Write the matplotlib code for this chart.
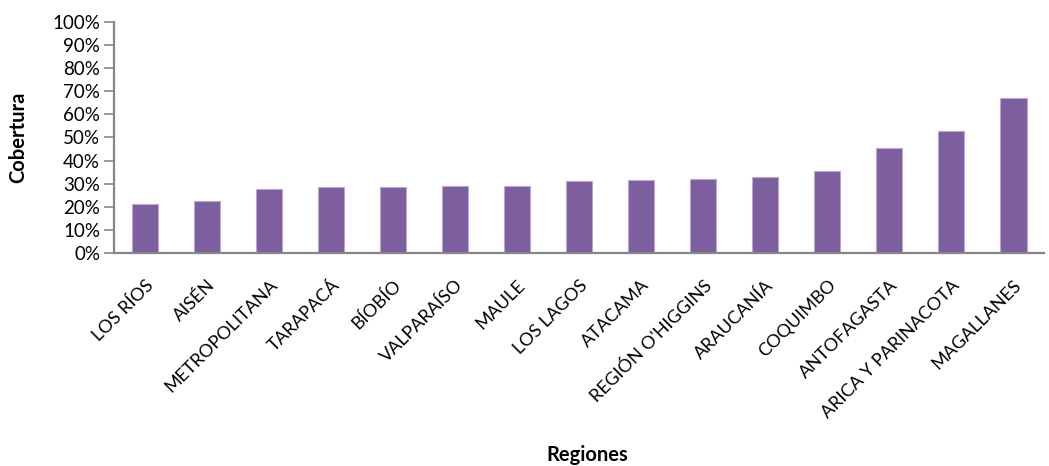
import matplotlib
matplotlib.use("Agg")
import matplotlib.pyplot as plt
import matplotlib.transforms as mtransforms
from matplotlib.ticker import PercentFormatter

regiones = ["LOS RÍOS", "AISÉN", "METROPOLITANA", "TARAPACÁ", "BÍOBÍO", "VALPARAÍSO",
            "MAULE", "LOS LAGOS", "ATACAMA", "REGIÓN O'HIGGINS", "ARAUCANÍA",
            "COQUIMBO", "ANTOFAGASTA", "ARICA Y PARINACOTA", "MAGALLANES"]
cobertura = [21.0, 22.3, 27.9, 28.5, 28.5, 29.2, 29.2, 31.1, 31.5, 32.2, 32.8,
             35.4, 45.4, 52.8, 67.2]
yticks = list(range(0, 101, 10))

plt.rcParams['font.family'] = ['Lato', 'DejaVu Sans']

fig = plt.figure(figsize=(10.49, 4.66), dpi=100)
ax = fig.add_axes([0.1087, 0.457, 0.887, 0.496])

x = list(range(len(regiones)))
ax.bar(x, cobertura, width=0.42, color='#7D5FA0', edgecolor='#B9A6D2', linewidth=0.8)

ax.set_xlim(-0.5, len(regiones) - 0.5)
ax.set_ylim(0, 100)
ax.set_yticks(yticks)
ax.yaxis.set_major_formatter(PercentFormatter(decimals=0))
ax.tick_params(axis='y', labelsize=13.5, color='#868686', length=7, width=1.2, pad=3)
ax.tick_params(axis='x', length=0, labelsize=13, pad=0)
ax.set_xticks(x)
ax.set_xticklabels(regiones, rotation=45, ha='right', va='top', rotation_mode='anchor')
offset = mtransforms.ScaledTranslation(0 / 100, -24 / 100, fig.dpi_scale_trans)
for lab in ax.get_xticklabels():
    lab.set_transform(lab.get_transform() + offset)

for s in ['top', 'right']:
    ax.spines[s].set_visible(False)
for s in ['left', 'bottom']:
    ax.spines[s].set_color('#868686')
    ax.spines[s].set_linewidth(1.6)

fig.text(0.017, 0.706, 'Cobertura', rotation=90, fontsize=14.5, fontweight='bold',
         ha='center', va='center')
fig.text(0.56, 0.024, 'Regiones', fontsize=14.5, fontweight='bold', ha='center', va='center')

fig.savefig('out.png', dpi=100)
